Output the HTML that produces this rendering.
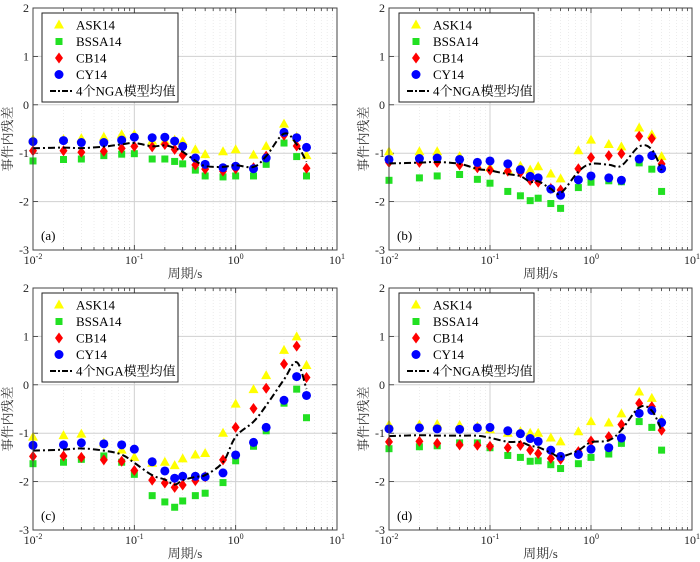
<!DOCTYPE html>
<html><head><meta charset="utf-8">
<style>
html,body{margin:0;padding:0;background:#fff;}
svg{display:block;font-family:"Liberation Serif","Noto Serif CJK SC",serif;}
</style></head>
<body>
<svg id="chart" width="700" height="562" viewBox="0 0 700 562" xmlns="http://www.w3.org/2000/svg"></svg>
<script>
const periods=[0.01,0.02,0.03,0.05,0.075,0.1,0.15,0.2,0.25,0.3,0.4,0.5,0.75,1,1.5,2,3,4,5];
const yTicks=[2,1,0,-1,-2,-3];
const xTickExp=[-2,-1,0,1];
const seriesNames=["ASK14","BSSA14","CB14","CY14"];
const panelLabels=["(a)","(b)","(c)","(d)"];
const askA=[-0.72,-0.72,-0.7,-0.67,-0.62,-0.62,-0.75,-0.75,-0.73,-0.76,-0.93,-1.03,-0.97,-0.93,-1.04,-0.86,-0.4,-0.67,-1.05];
const bssaA=[-1.16,-1.13,-1.12,-1.05,-1.02,-1.01,-1.12,-1.12,-1.17,-1.22,-1.35,-1.47,-1.49,-1.47,-1.47,-1.23,-0.79,-1.07,-1.47];
const cbA=[-0.95,-0.95,-0.98,-0.96,-0.9,-0.86,-0.87,-0.82,-0.92,-1.04,-1.24,-1.33,-1.37,-1.32,-1.3,-1.06,-0.63,-0.85,-1.31];
const cyA=[-0.76,-0.74,-0.78,-0.78,-0.73,-0.67,-0.68,-0.67,-0.75,-0.86,-1.1,-1.23,-1.3,-1.27,-1.32,-1.1,-0.57,-0.68,-0.88];
const askB=[-0.97,-0.97,-0.97,-1.07,-1.27,-1.3,-1.35,-1.27,-1.35,-1.28,-1.43,-1.53,-0.95,-0.73,-0.82,-0.87,-0.48,-0.62,-1.07];
const bssaB=[-1.56,-1.51,-1.47,-1.44,-1.54,-1.62,-1.79,-1.88,-1.98,-1.93,-2.04,-2.14,-1.71,-1.6,-1.57,-1.59,-1.2,-1.33,-1.79];
const cbB=[-1.19,-1.19,-1.19,-1.24,-1.3,-1.35,-1.37,-1.4,-1.56,-1.6,-1.73,-1.76,-1.32,-1.09,-1.05,-1.01,-0.65,-0.7,-1.22];
const cyB=[-1.13,-1.11,-1.1,-1.13,-1.19,-1.16,-1.22,-1.34,-1.48,-1.51,-1.74,-1.87,-1.55,-1.47,-1.51,-1.56,-1.12,-1.05,-1.32];
const askC=[-1.08,-1.05,-1.02,-1.2,-1.35,-1.5,-1.62,-1.6,-1.67,-1.53,-1.45,-1.42,-1.0,-0.4,-0.1,0.19,0.71,0.99,0.4];
const bssaC=[-1.63,-1.6,-1.54,-1.47,-1.6,-1.85,-2.29,-2.42,-2.53,-2.4,-2.29,-2.24,-2.02,-1.57,-1.27,-0.95,-0.38,-0.09,-0.68];
const cbC=[-1.48,-1.47,-1.5,-1.55,-1.58,-1.77,-1.97,-2.03,-2.12,-2.07,-1.98,-1.9,-1.55,-0.88,-0.49,-0.07,0.43,0.8,0.15];
const cyC=[-1.25,-1.24,-1.2,-1.22,-1.24,-1.33,-1.59,-1.78,-1.93,-1.89,-1.89,-1.9,-1.82,-1.45,-1.19,-0.88,-0.32,0.17,-0.22];
const askD=[-0.83,-0.83,-0.82,-0.84,-0.87,-0.93,-1.0,-0.97,-1.0,-1.0,-1.1,-1.18,-0.97,-0.76,-0.79,-0.6,-0.15,-0.28,-0.72];
const bssaD=[-1.32,-1.28,-1.26,-1.2,-1.2,-1.3,-1.46,-1.5,-1.58,-1.57,-1.65,-1.73,-1.63,-1.5,-1.43,-1.21,-0.76,-0.88,-1.35];
const cbD=[-1.18,-1.17,-1.21,-1.24,-1.25,-1.27,-1.3,-1.25,-1.35,-1.42,-1.52,-1.54,-1.38,-1.16,-1.07,-0.82,-0.38,-0.45,-0.94];
const cyD=[-0.91,-0.89,-0.91,-0.92,-0.89,-0.88,-0.95,-1.01,-1.11,-1.17,-1.35,-1.48,-1.44,-1.33,-1.3,-1.1,-0.59,-0.53,-0.78];

const NS="http://www.w3.org/2000/svg";
const svg=document.getElementById('chart');
function mk(tag,attrs,parent){const e=document.createElementNS(NS,tag);for(const k in attrs)e.setAttribute(k,attrs[k]);(parent||svg).appendChild(e);return e;}

const panels=[
 {L:33,R:337,T:8,B:250,data:[askA,bssaA,cbA,cyA],leg:[42,178]},
 {L:389,R:692,T:8,B:250,data:[askB,bssaB,cbB,cyB],leg:[399,534]},
 {L:33,R:337,T:288,B:530,data:[askC,bssaC,cbC,cyC],leg:[42,178]},
 {L:389,R:692,T:288,B:530,data:[askD,bssaD,cbD,cyD],leg:[399,534]}
];
const colors=["#ffff00","#22e022","#ff0000","#0000ff"];

function marker(g,type,x,y){
  if(type===0)return mk('polygon',{points:`${x},${y-5.5} ${x+5},${y+3.5} ${x-5},${y+3.5}`,fill:colors[0]},g);
  if(type===1)return mk('rect',{x:x-3.5,y:y-3.5,width:7,height:7,fill:colors[1]},g);
  if(type===2)return mk('polygon',{points:`${x},${y-5.5} ${x+4},${y} ${x},${y+5.5} ${x-4},${y}`,fill:colors[2]},g);
  return mk('circle',{cx:x,cy:y,r:4.5,fill:colors[3]},g);
}
function smoothPath(P){
  let d=`M${P[0][0]},${P[0][1]}`;
  for(let i=0;i<P.length-1;i++){
    const p0=P[Math.max(0,i-1)],p1=P[i],p2=P[i+1],p3=P[Math.min(P.length-1,i+2)];
    const t=0.18;
    const c1x=p1[0]+(p2[0]-p0[0])*t,c1y=p1[1]+(p2[1]-p0[1])*t;
    const c2x=p2[0]-(p3[0]-p1[0])*t,c2y=p2[1]-(p3[1]-p1[1])*t;
    d+=` C${c1x},${c1y} ${c2x},${c2y} ${p2[0]},${p2[1]}`;
  }
  return d;
}

panels.forEach((p,pi)=>{
  const g=mk('g',{});
  
  
  const xs=v=>p.L+(Math.log10(v)+2)/3*(p.R-p.L);
  const ys=v=>p.T+(2-v)/5*(p.B-p.T);
  for(let e=-2;e<1;e++)for(let m=2;m<=9;m++){const x=xs(m*Math.pow(10,e));
    mk('line',{x1:x,x2:x,y1:p.T,y2:p.B,stroke:'#e4e4e4','stroke-width':0.7,'stroke-dasharray':'1,2'},g);}
  xTickExp.forEach(e=>{const x=xs(Math.pow(10,e));mk('line',{x1:x,x2:x,y1:p.T,y2:p.B,stroke:'#d0d0d0','stroke-width':1},g);});
  yTicks.forEach(t=>{const y=ys(t);mk('line',{x1:p.L,x2:p.R,y1:y,y2:y,stroke:'#d0d0d0','stroke-width':1},g);});
  for(let e=-2;e<1;e++)for(let m=1;m<=9;m++){const x=xs(m*Math.pow(10,e));const len=m===1?5:3;
    mk('line',{x1:x,x2:x,y1:p.B,y2:p.B-len,stroke:'#333','stroke-width':0.8},g);
    mk('line',{x1:x,x2:x,y1:p.T,y2:p.T+len,stroke:'#333','stroke-width':0.8},g);}
  yTicks.forEach(t=>{const y=ys(t);
    mk('line',{x1:p.L,x2:p.L+5,y1:y,y2:y,stroke:'#333','stroke-width':0.8},g);
    mk('line',{x1:p.R,x2:p.R-5,y1:y,y2:y,stroke:'#333','stroke-width':0.8},g);
    const tl=mk('text',{x:p.L-4,y:y+4,'text-anchor':'end','font-size':12,fill:'#222'},g);tl.textContent=t;
    
    
  });
  xTickExp.forEach(e=>{const x=xs(Math.pow(10,e));
    const tl=mk('text',{x:x,y:p.B+14,'text-anchor':'middle','font-size':12,fill:'#222'},g);
    
    
    tl.textContent='10';const sp=mk('tspan',{dy:-5,'font-size':8},tl);sp.textContent=String(e);
  });
  p.data.forEach((arr,si)=>{
    const sg=mk('g',{},g);
    
    
    arr.forEach((v,i)=>{const m=marker(sg,si,xs(periods[i]),ys(v));
      
      });
  });
  const P=periods.map((t,i)=>{const mean=(p.data[0][i]+p.data[1][i]+p.data[2][i]+p.data[3][i])/4;return [xs(t),ys(mean)];});
  const ml=mk('path',{d:smoothPath(P),fill:'none',stroke:'#000','stroke-width':2,'stroke-dasharray':'7,3,2,3'},g);
  
  
  mk('rect',{x:p.L,y:p.T,width:p.R-p.L,height:p.B-p.T,fill:'none',stroke:'#444','stroke-width':1},g);
  const pl=mk('text',{x:p.L+8,y:p.B-10,'font-size':13,fill:'#000'},g);pl.textContent=panelLabels[pi];
  
  
  const yl=mk('text',{x:0,y:0,'font-size':13,fill:'#333','text-anchor':'middle',transform:`translate(${p.L-21},${(p.T+p.B)/2+10}) rotate(-90)`},g);
  yl.textContent='事件内残差';
  
  
  const xl=mk('text',{x:(p.L+p.R)/2,y:p.B+28,'font-size':13,fill:'#333','text-anchor':'middle'},g);
  xl.textContent='周期/s';
  
  
  const lg=mk('g',{},g);
  
  
  const lx=p.leg[0],lw=p.leg[1]-p.leg[0],ly=p.T+5;
  mk('rect',{x:lx,y:ly,width:lw,height:89,fill:'#fff',stroke:'#222','stroke-width':1},lg);
  const labels=seriesNames.concat(['4个NGA模型均值']);
  labels.forEach((s,i)=>{
    const cy=ly+12+i*16.5;
    const e=mk('g',{},lg);
    
    
    if(i<4)marker(e,i,lx+17,cy);
    else mk('line',{x1:lx+8,x2:lx+30,y1:cy,y2:cy,stroke:'#000','stroke-width':2,'stroke-dasharray':'6,2,2,2'},e);
    const t=mk('text',{x:lx+34,y:cy+4.5,'font-size':13,fill:'#000'},e);t.textContent=s;
  });
});
</script>
</body></html>
